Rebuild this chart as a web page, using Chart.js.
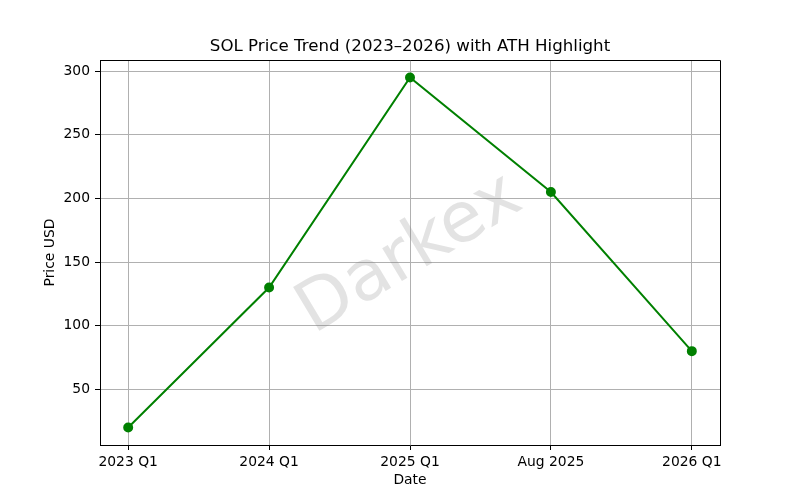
<!DOCTYPE html>
<html>
<head>
<meta charset="utf-8">
<script src="https://cdn.jsdelivr.net/npm/chart.js@4/dist/chart.umd.min.js"></script>
<style>
  html, body { margin: 0; padding: 0; background: #fff; }
  #wrap { width: 800px; height: 500px; }
</style>
</head>
<body>
<div id="wrap"><canvas id="c" width="800" height="500"></canvas></div>
<script>
const categories = ["2023 Q1", "2024 Q1", "2025 Q1", "Aug 2025", "2026 Q1"];
const prices = [20, 130, 295, 205, 80];
const yTicks = [50, 100, 150, 200, 250, 300];
const titleText = "SOL Price Trend (2023\u20132026) with ATH Highlight";
const xTitle = "Date";
const yTitle = "Price USD";
const watermark = "Darkex";

const FONT = "'DejaVu Sans', sans-serif";

const overlay = {
  id: 'overlay',
  afterDraw(chart) {
    const ctx = chart.ctx;
    const a = chart.chartArea;
    ctx.save();
    ctx.strokeStyle = '#000';
    ctx.lineWidth = 1;
    ctx.beginPath();
    ctx.moveTo(a.left, a.top + 0.5);
    ctx.lineTo(a.right + 0.5, a.top + 0.5);
    ctx.lineTo(a.right + 0.5, a.bottom);
    ctx.stroke();
    ctx.translate(410, 255);
    ctx.rotate(-31 * Math.PI / 180);
    ctx.fillStyle = 'rgba(128,128,128,0.22)';
    ctx.font = "70px " + FONT;
    ctx.textAlign = 'center';
    ctx.textBaseline = 'middle';
    ctx.fillText(watermark, 0, 0);
    ctx.restore();
    ctx.save();
    ctx.fillStyle = '#000';
    ctx.textAlign = 'center';
    ctx.textBaseline = 'middle';
    ctx.font = "16.67px " + FONT;
    ctx.fillText(titleText, (a.left + a.right) / 2, 47);
    ctx.font = "13.89px " + FONT;
    ctx.fillText(xTitle, (a.left + a.right) / 2, 480);
    ctx.translate(50, (a.top + a.bottom) / 2);
    ctx.rotate(-Math.PI / 2);
    ctx.fillText(yTitle, 0, 0);
    ctx.restore();
  }
};

new Chart(document.getElementById('c'), {
  type: 'line',
  data: {
    datasets: [{
      data: prices.map((v, i) => ({ x: i, y: v })),
      borderColor: '#008000',
      backgroundColor: '#008000',
      borderWidth: 2,
      pointRadius: 4,
      pointHoverRadius: 4,
      pointBackgroundColor: '#008000',
      pointBorderColor: '#008000',
      tension: 0,
      fill: false
    }]
  },
  options: {
    responsive: false,
    animation: false,
    events: [],
    layout: { padding: { top: 60, right: 80, left: 0, bottom: 0 } },
    plugins: { legend: { display: false }, title: { display: false }, tooltip: { enabled: false } },
    scales: {
      x: {
        type: 'linear',
        min: -0.2,
        max: 4.2,
        afterBuildTicks(scale) { scale.ticks = categories.map((_, i) => ({ value: i })); },
        afterFit(scale) { scale.height = 55; },
        ticks: {
          callback: (v) => categories[v],
          color: '#000',
          font: { family: FONT, size: 13.89 },
          padding: 4,
          maxRotation: 0,
          autoSkip: false
        },
        grid: { color: '#b0b0b0', lineWidth: 1, tickColor: '#000', tickLength: 5 },
        border: { color: '#000', width: 1 }
      },
      y: {
        min: 6.25,
        max: 308.75,
        afterBuildTicks(scale) { scale.ticks = yTicks.map(v => ({ value: v })); },
        afterFit(scale) { scale.width = 100; },
        ticks: {
          callback: (v) => String(v),
          color: '#000',
          font: { family: FONT, size: 13.89 },
          padding: 5
        },
        grid: { color: '#b0b0b0', lineWidth: 1, tickColor: '#000', tickLength: 5 },
        border: { color: '#000', width: 1 }
      }
    }
  },
  plugins: [overlay]
});
</script>
</body>
</html>
